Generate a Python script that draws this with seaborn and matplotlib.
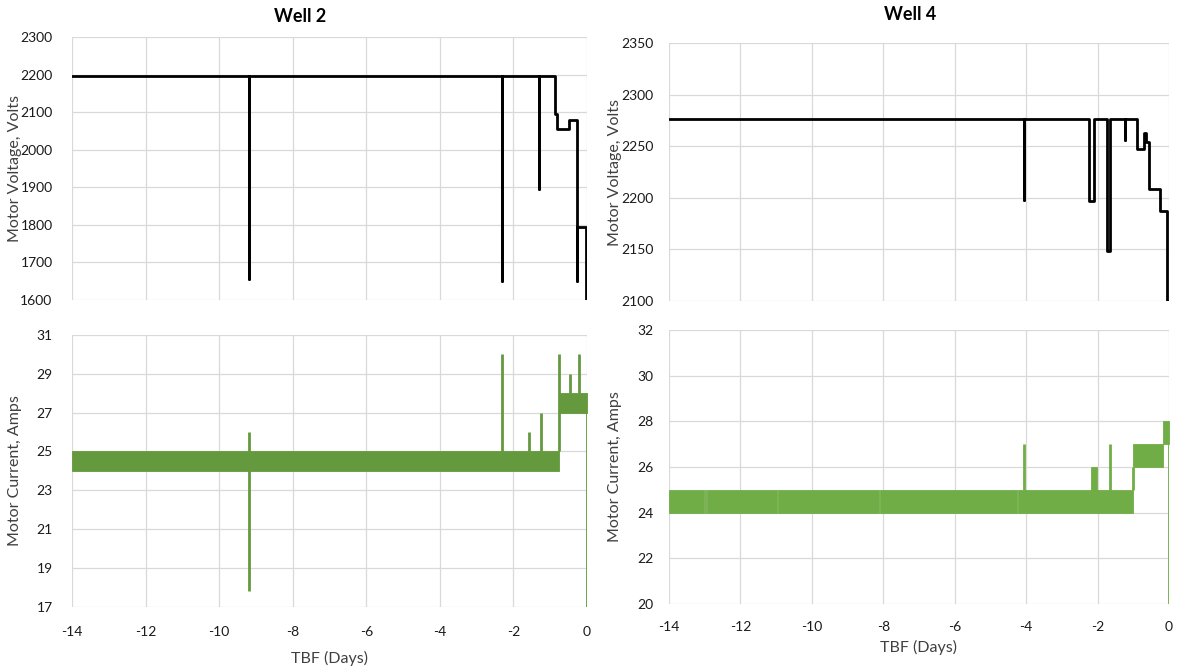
import matplotlib
matplotlib.use("Agg")
import matplotlib.pyplot as plt
import seaborn as sns
import pandas as pd
import numpy as np

# ---------------- data ----------------
# Well 2 motor voltage: step changes (time in days before failure, value in volts)
w2_volt_t = [-14, -9.20, -9.19, -2.32, -2.31, -1.31, -1.30, -0.86, -0.82, -0.49, -0.28, -0.27, -0.03, 0.0]
w2_volt_v = [2195, 1655, 2195, 1650, 2195, 1895, 2195, 2095, 2055, 2078, 1650, 1795, 1600, 1600]

# Well 4 motor voltage
w4_volt_t = [-14, -4.06, -4.05, -2.23, -2.11, -1.73, -1.66, -1.23, -1.22, -0.89, -0.70, -0.65, -0.55, -0.24, -0.07, 0.0]
w4_volt_v = [2276, 2198, 2276, 2197, 2276, 2148, 2276, 2256, 2276, 2247, 2263, 2254, 2209, 2187, 2100, 2100]

# Well 2 motor current: oscillation bands (start, end, low, high) and spikes (time, low, high)
w2_band_start = [-14.0, -0.76]
w2_band_end = [-0.76, -0.01]
w2_band_lo = [24, 27]
w2_band_hi = [25, 28]
w2_spike_t = [-9.2, -2.3, -1.58, -1.25, -0.76, -0.45, -0.22, -0.01]
w2_spike_lo = [17.8, 25, 25, 25, 25, 28, 28, 17]
w2_spike_hi = [26, 30, 26, 27, 30, 29, 30, 28]

# Well 4 motor current
w4_band_start = [-14.0, -13.00, -12.94, -10.95, -8.09, -4.22, -2.18, -2.02, -1.00, -0.16]
w4_band_end = [-13.03, -12.96, -10.98, -8.12, -4.25, -2.18, -2.02, -1.00, -0.16, -0.01]
w4_band_lo = [24, 24, 24, 24, 24, 24, 24, 24, 26, 27]
w4_band_hi = [25, 25, 25, 25, 25, 25, 26, 25, 27, 28]
w4_spike_t = [-4.05, -1.66, -1.00, -0.16, -0.01]
w4_spike_lo = [25, 25, 25, 27, 20]
w4_spike_hi = [27, 27, 26, 27, 28]

x_ticks = [-14, -12, -10, -8, -6, -4, -2, 0]
w2_volt_ticks = [1600, 1700, 1800, 1900, 2000, 2100, 2200, 2300]
w4_volt_ticks = [2100, 2150, 2200, 2250, 2300, 2350]
w2_amp_ticks = [17, 19, 21, 23, 25, 27, 29, 31]
w4_amp_ticks = [20, 22, 24, 26, 28, 30, 32]

# ---------------- style ----------------
sns.set_theme(style="whitegrid")
plt.rcParams["font.family"] = ["Lato", "DejaVu Sans"]
plt.rcParams["axes.unicode_minus"] = False
GRID = "#d9d9d9"
GREEN_L = "#64993e"
GREEN_R = "#70ad47"
TXT = "#1a1a1a"

W, H = 1177, 671
fig = plt.figure(figsize=(W / 100, H / 100), dpi=100)


def box(x0, x1, y0, y1):
    return [x0 / W, 1 - y1 / H, (x1 - x0) / W, (y1 - y0) / H]


ax1 = fig.add_axes(box(72, 587, 37, 300))
ax2 = fig.add_axes(box(72, 587, 335, 606.7))
ax3 = fig.add_axes(box(669, 1169, 43, 301))
ax4 = fig.add_axes(box(669, 1169, 330, 604))


def style(ax, yticks, show_x, xpad, ypad):
    ax.set_xlim(-14, 0)
    ax.set_ylim(yticks[0], yticks[-1])
    ax.set_xticks(x_ticks)
    ax.set_yticks(yticks)
    ax.grid(True, color=GRID, linewidth=0.9)
    for s in ax.spines.values():
        s.set_visible(False)
    ax.tick_params(axis="both", length=0, labelsize=10, colors=TXT)
    ax.tick_params(axis="y", pad=ypad)
    ax.tick_params(axis="x", pad=xpad)
    if not show_x:
        ax.set_xticklabels([])
    ax.set_axisbelow(True)


def volt(ax, t, v):
    df = pd.DataFrame({"t": t, "v": v})
    sns.lineplot(data=df, x="t", y="v", ax=ax, color="black", linewidth=2.0,
                 drawstyle="steps-post", estimator=None, sort=False)


def amps(ax, bs, be, blo, bhi, st, slo, shi, color):
    for s, e, lo, hi in zip(bs, be, blo, bhi):
        ax.fill_between([s, e], [lo, lo], [hi, hi], color=color, linewidth=0.6,
                        edgecolor=color)
    ax.vlines(st, slo, shi, color=color, linewidth=2.0)


volt(ax1, w2_volt_t, w2_volt_v)
volt(ax3, w4_volt_t, w4_volt_v)
amps(ax2, w2_band_start, w2_band_end, w2_band_lo, w2_band_hi,
     w2_spike_t, w2_spike_lo, w2_spike_hi, GREEN_L)
amps(ax4, w4_band_start, w4_band_end, w4_band_lo, w4_band_hi,
     w4_spike_t, w4_spike_lo, w4_spike_hi, GREEN_R)

style(ax1, w2_volt_ticks, False, 14, 14)
style(ax2, w2_amp_ticks, True, 14, 14)
style(ax3, w4_volt_ticks, False, 12, 11)
style(ax4, w4_amp_ticks, True, 12, 11)

ylab = dict(fontsize=11.5, color="#404040")
xlab = dict(fontsize=11.5, color="#404040")
for ax in (ax1, ax2, ax3, ax4):
    ax.set_xlabel("")
    ax.set_ylabel("")
ax1.set_ylabel("Motor Voltage, Volts", **ylab)
ax2.set_ylabel("Motor Current, Amps", **ylab)
ax3.set_ylabel("Motor Voltage, Volts", **ylab)
ax4.set_ylabel("Motor Current, Amps", **ylab)
ax1.yaxis.set_label_coords(-0.097, 0.5)
ax2.yaxis.set_label_coords(-0.097, 0.5)
ax3.yaxis.set_label_coords(-0.094, 0.5)
ax4.yaxis.set_label_coords(-0.094, 0.5)

ax2.set_xlabel("TBF (Days)", **xlab)
ax4.set_xlabel("TBF (Days)", **xlab)
ax2.xaxis.set_label_coords(0.5, -0.163)
ax4.xaxis.set_label_coords(0.5, -0.131)

fig.text(300 / W, 1 - 17 / H, "Well 2", ha="center", va="center",
         fontsize=13, fontweight="bold", color="black")
fig.text(910 / W, 1 - 14 / H, "Well 4", ha="center", va="center",
         fontsize=13, fontweight="bold", color="black")

fig.savefig("out.png", dpi=100, facecolor="white")
